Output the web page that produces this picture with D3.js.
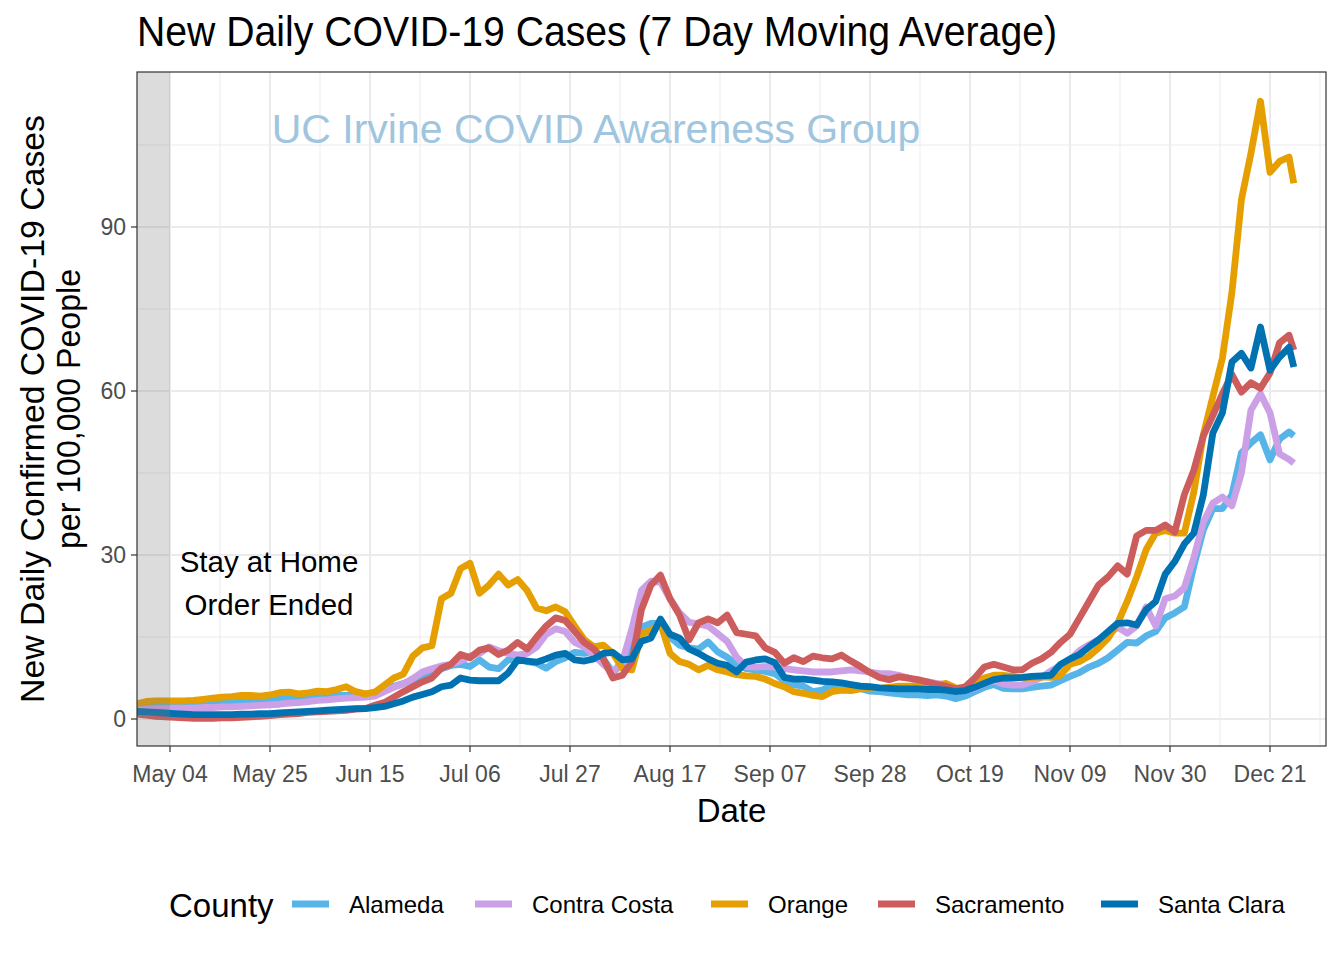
<!DOCTYPE html>
<html><head><meta charset="utf-8">
<script src="https://cdn.jsdelivr.net/npm/d3@7"></script>
<style>body{margin:0;background:#fff} svg{display:block;font-family:"Liberation Sans",Arial,Helvetica,sans-serif}</style>
</head><body><svg id="c" width="1344" height="960"></svg>
<script>
// ---- data (2020, every second day) ----
const dates = ["04-27","04-29","05-01","05-03","05-05","05-07","05-09","05-11","05-13","05-15","05-17","05-19","05-21","05-23","05-25","05-27","05-29","05-31",
"06-02","06-04","06-06","06-08","06-10","06-12","06-14","06-16","06-18","06-20","06-22","06-24","06-26","06-28","06-30",
"07-02","07-04","07-06","07-08","07-10","07-12","07-14","07-16","07-18","07-20","07-22","07-24","07-26","07-28","07-30",
"08-01","08-03","08-05","08-07","08-09","08-11","08-13","08-15","08-17","08-19","08-21","08-23","08-25","08-27","08-29","08-31",
"09-02","09-04","09-06","09-08","09-10","09-12","09-14","09-16","09-18","09-20","09-22","09-24","09-26","09-28","09-30",
"10-02","10-04","10-06","10-08","10-10","10-12","10-14","10-16","10-18","10-20","10-22","10-24","10-26","10-28","10-30",
"11-01","11-03","11-05","11-07","11-09","11-11","11-13","11-15","11-17","11-19","11-21","11-23","11-25","11-27","11-29",
"12-01","12-03","12-05","12-07","12-09","12-11","12-13","12-15","12-17","12-19","12-21","12-23","12-25","12-26"];

const alameda = [2.2,2.2,2.2,2.3,2.4,2.5,2.7,2.8,2.9,3.0,3.1,3.2,3.3,3.4,3.5,3.7,3.9,4.0,4.1,4.2,4.2,4.3,4.3,4.4,4.4,
4.6,5.2,6.0,6.5,7.0,7.6,8.3,9.2,9.8,10.0,9.6,10.8,9.5,9.2,10.8,11.0,10.5,10.2,9.3,10.5,11.2,12.2,12.0,12.5,11.0,8.5,
10.2,13.5,16.8,17.5,17.5,15.0,13.5,13.0,12.8,14.1,12.3,11.3,10.0,9.2,9.0,8.7,8.3,7.0,6.3,6.0,5.0,5.3,6.2,6.3,5.9,5.6,5.1,5.0,4.8,4.6,
4.4,4.4,4.3,4.4,4.2,3.7,4.2,5.0,5.8,6.3,5.6,5.5,5.5,5.8,6.0,6.2,7.0,7.8,8.5,9.5,10.2,11.2,12.6,14.0,13.9,15.2,16.0,18.5,19.4,20.5,
28.0,34.6,38.5,38.5,41.0,48.7,50.5,52.0,47.4,51.2,52.5,51.8];

const contraCosta = [1.8,1.8,1.9,1.9,2.0,2.0,2.0,2.1,2.1,2.2,2.2,2.3,2.4,2.5,2.6,2.7,2.9,3.0,3.2,3.4,3.5,3.7,3.8,3.9,4.0,
4.2,5.0,5.8,6.4,7.4,8.6,9.2,9.7,10.0,10.6,11.5,12.0,13.2,12.5,12.0,11.7,12.0,13.2,15.5,16.5,16.0,14.0,13.2,11.7,10.0,8.6,
10.5,16.5,23.5,25.2,25.0,22.0,19.4,17.7,17.4,17.0,15.6,14.2,11.3,9.6,9.5,9.6,9.5,9.2,9.0,8.8,8.6,8.6,8.6,8.8,9.0,8.8,8.6,8.3,8.3,8.0,
7.5,7.0,6.8,6.5,6.2,5.6,5.3,5.6,6.5,7.0,6.4,6.2,6.2,6.8,7.6,8.8,9.8,10.8,12.5,13.6,14.5,15.5,16.8,15.7,17.0,20.5,17.0,22.0,22.5,24.0,
29.5,36.0,39.5,40.6,39.0,45.0,56.5,59.5,56.0,48.5,47.5,46.8];

const orange = [2.8,3.2,3.3,3.3,3.3,3.3,3.4,3.6,3.8,4.0,4.1,4.3,4.3,4.2,4.4,4.8,4.9,4.6,4.8,5.1,5.0,5.4,5.9,5.0,4.6,
4.9,6.2,7.5,8.2,11.5,13.0,13.4,22.0,23.0,27.5,28.5,23.0,24.5,26.5,24.5,25.5,23.5,20.3,19.8,20.5,19.6,17.0,14.5,13.2,13.5,12.0,
9.3,9.0,15.5,16.2,17.5,12.0,10.5,10.0,9.0,9.8,9.0,8.6,8.1,7.9,7.8,7.3,6.5,5.9,5.0,4.7,4.3,4.1,5.0,5.3,5.2,5.5,5.6,5.6,5.8,6.0,
6.0,6.0,6.2,6.2,6.5,5.7,5.5,6.5,7.5,8.0,8.0,7.8,7.5,7.6,7.7,7.6,8.0,10.0,10.5,11.5,13.0,14.8,17.5,21.5,26.0,31.0,34.0,34.5,34.0,34.0,
41.5,52.0,59.0,66.0,78.0,95.0,103.5,113.0,100.0,102.0,102.8,98.0];

const sacramento = [0.9,0.7,0.5,0.4,0.3,0.2,0.1,0.1,0.1,0.2,0.2,0.3,0.4,0.5,0.6,0.8,0.9,1.0,1.2,1.3,1.4,1.5,1.6,1.8,1.9,
2.5,3.0,4.0,5.0,5.9,6.8,7.5,9.3,10.0,11.8,11.2,12.6,13.0,11.8,12.6,14.0,12.8,15.0,17.0,18.5,18.0,16.0,14.0,12.8,11.0,7.5,
8.0,10.5,20.0,24.5,26.3,22.0,19.0,14.5,17.6,18.3,17.6,19.0,15.8,15.5,15.2,13.0,12.2,10.2,11.2,10.5,11.5,11.2,11.0,11.7,10.6,9.6,8.5,7.6,7.2,7.7,
7.5,7.2,6.8,6.3,6.0,5.5,5.9,7.5,9.5,10.0,9.5,9.0,9.0,10.2,11.0,12.2,14.0,15.5,18.5,21.5,24.5,26.0,28.0,26.5,33.5,34.5,34.5,35.5,34.2,41.0,
45.5,51.8,55.5,59.5,63.0,59.8,61.5,60.5,63.3,68.8,70.2,67.5];

const santaClara = [1.4,1.3,1.2,1.1,1.0,0.9,0.8,0.8,0.8,0.8,0.8,0.9,0.9,1.0,1.0,1.1,1.2,1.3,1.4,1.5,1.6,1.7,1.8,1.9,1.9,
2.1,2.3,2.8,3.3,4.0,4.5,5.0,5.9,6.2,7.5,7.1,7.0,7.0,7.0,8.4,10.8,10.6,10.4,11.0,11.7,12.0,10.8,10.6,11.0,12.0,12.2,
10.8,11.0,14.2,14.8,18.3,15.5,14.8,12.8,12.0,11.0,10.2,9.8,8.6,10.4,10.8,11.0,10.3,7.6,7.3,7.3,7.1,6.9,6.8,6.6,6.3,6.0,5.9,5.7,5.6,5.5,
5.5,5.5,5.4,5.4,5.3,5.0,5.2,5.8,6.5,7.2,7.5,7.5,7.6,7.8,7.9,8.0,10.0,11.0,11.8,13.2,14.5,16.0,17.5,17.6,17.2,20.0,21.5,26.5,28.8,32.0,
34.0,41.0,52.3,56.0,65.3,66.9,64.2,71.7,63.8,66.2,68.0,64.4];

const counties = ["Alameda","Contra Costa","Orange","Sacramento","Santa Clara"];
const seriesValues = [alameda, contraCosta, orange, sacramento, santaClara];
const colors = ["#56B4E9","#CCA0E6","#E69F00","#CD5C5C","#0072B2"];
const tickDates = ["2020-05-04","2020-05-25","2020-06-15","2020-07-06","2020-07-27","2020-08-17","2020-09-07","2020-09-28","2020-10-19","2020-11-09","2020-11-30","2020-12-21"];
const yTicks = [0,30,60,90];
const yMinor = [15,45,75,105];
const orderEndDate = "2020-05-04";

// ---- layout ----
const P = {l:137, t:72, r:1326, b:746};
const LW = 6.8;
const parse = d3.utcParse("%Y-%m-%d");
const td = tickDates.map(parse);
const x = d3.scaleUtc().domain([td[0], td[td.length-1]]).range([170,1270]);
const y = d3.scaleLinear().domain([0,90]).range([719,227]);

const svg = d3.select("#c");
svg.append("rect").attr("width",1344).attr("height",960).attr("fill","#fff");
svg.append("defs").append("clipPath").attr("id","pc").append("rect")
  .attr("x",P.l).attr("y",P.t).attr("width",P.r-P.l).attr("height",P.b-P.t);

const grid = svg.append("g");
// minor grid
const step = x(td[1]) - x(td[0]);
const minorX = [x(td[0]) - step/2].concat(td.map(d => x(d) + step/2));
minorX.filter(v => v > P.l && v < P.r).forEach(v => grid.append("line")
  .attr("x1",v).attr("x2",v).attr("y1",P.t).attr("y2",P.b).attr("stroke","#ebebeb").attr("stroke-width",1));
yMinor.forEach(v => grid.append("line")
  .attr("x1",P.l).attr("x2",P.r).attr("y1",y(v)).attr("y2",y(v)).attr("stroke","#ebebeb").attr("stroke-width",1));
// major grid
td.forEach(d => grid.append("line")
  .attr("x1",x(d)).attr("x2",x(d)).attr("y1",P.t).attr("y2",P.b).attr("stroke","#ebebeb").attr("stroke-width",2));
yTicks.forEach(v => grid.append("line")
  .attr("x1",P.l).attr("x2",P.r).attr("y1",y(v)).attr("y2",y(v)).attr("stroke","#ebebeb").attr("stroke-width",2));

// watermark
svg.append("text").attr("x",596).attr("y",143).attr("text-anchor","middle")
  .attr("font-size",41).attr("fill","#9fc5df").text("UC Irvine COVID Awareness Group");

// lines
const parsedDates = dates.map(s => parse("2020-" + s));
const line = d3.line().x((d,i) => x(parsedDates[i])).y(d => y(d));
const lg = svg.append("g").attr("clip-path","url(#pc)");
seriesValues.forEach((vals,i) => {
  lg.append("path").attr("d", line(vals)).attr("fill","none")
    .attr("stroke",colors[i]).attr("stroke-width",LW)
    .attr("stroke-linejoin","round").attr("stroke-linecap","butt");
});

// stay-at-home shading
svg.append("rect").attr("x",P.l).attr("y",P.t).attr("width",x(parse(orderEndDate))-P.l).attr("height",P.b-P.t)
  .attr("fill","#7f7f7f").attr("fill-opacity",0.27);

// annotation
const ann = svg.append("text").attr("text-anchor","middle").attr("font-size",29.5).attr("fill","#000");
ann.append("tspan").attr("x",x(parse("2020-05-25"))-1).attr("y",572).text("Stay at Home");
ann.append("tspan").attr("x",x(parse("2020-05-25"))-1).attr("y",615).text("Order Ended");

// panel border
svg.append("rect").attr("x",P.l).attr("y",P.t).attr("width",P.r-P.l).attr("height",P.b-P.t)
  .attr("fill","none").attr("stroke","#333").attr("stroke-width",1.2);

// x axis
const fmt = d3.utcFormat("%b %d");
td.forEach(d => {
  svg.append("line").attr("x1",x(d)).attr("x2",x(d)).attr("y1",P.b).attr("y2",P.b+6).attr("stroke","#333").attr("stroke-width",1.2);
  svg.append("text").attr("x",x(d)).attr("y",782).attr("text-anchor","middle").attr("font-size",23)
    .attr("fill","#4d4d4d").text(fmt(d));
});
// y axis
yTicks.forEach(v => {
  svg.append("line").attr("x1",P.l-6).attr("x2",P.l).attr("y1",y(v)).attr("y2",y(v)).attr("stroke","#333").attr("stroke-width",1.2);
  svg.append("text").attr("x",P.l-11).attr("y",y(v)).attr("dy","0.36em").attr("text-anchor","end").attr("font-size",23)
    .attr("fill","#4d4d4d").text(v);
});

// titles
svg.append("text").attr("x",137).attr("y",46).attr("font-size",42).attr("fill","#000")
  .attr("textLength",920).attr("lengthAdjust","spacingAndGlyphs")
  .text("New Daily COVID-19 Cases (7 Day Moving Average)");
svg.append("text").attr("x",(P.l+P.r)/2).attr("y",822).attr("text-anchor","middle").attr("font-size",33).attr("fill","#000").text("Date");
const yt = svg.append("g").attr("transform",`translate(0,${(P.t+P.b)/2}) rotate(-90)`);
yt.append("text").attr("x",-294).attr("y",44).attr("font-size",33.5).attr("fill","#000")
  .attr("textLength",588).attr("lengthAdjust","spacingAndGlyphs").text("New Daily Confirmed COVID-19 Cases");
yt.append("text").attr("x",-140).attr("y",80).attr("font-size",33.5).attr("fill","#000")
  .attr("textLength",280).attr("lengthAdjust","spacingAndGlyphs").text("per 100,000 People");

// legend
svg.append("text").attr("x",169).attr("y",917).attr("font-size",33).attr("fill","#000").text("County");
const keyX = [292,475,711,878,1101];
counties.forEach((c,i) => {
  svg.append("line").attr("x1",keyX[i]).attr("x2",keyX[i]+37).attr("y1",904).attr("y2",904)
    .attr("stroke",colors[i]).attr("stroke-width",LW);
  svg.append("text").attr("x",keyX[i]+57).attr("y",913).attr("font-size",24).attr("fill","#000").text(c);
});
</script></body></html>
